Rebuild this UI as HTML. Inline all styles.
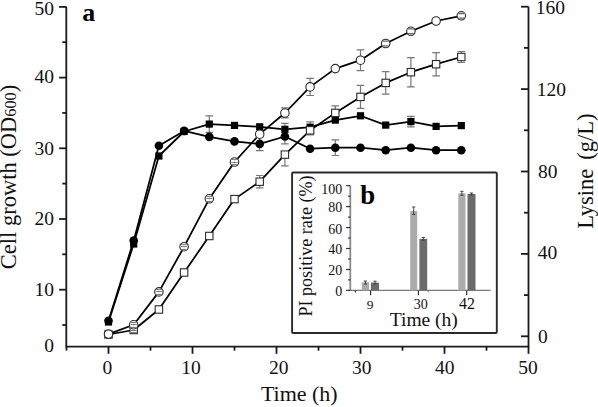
<!DOCTYPE html>
<html><head><meta charset="utf-8"><style>
html,body{margin:0;padding:0;background:#fff;}
body{width:598px;height:407px;overflow:hidden;font-family:"Liberation Serif",serif;}
svg{display:block;}
</style></head><body>
<svg width="598" height="407" viewBox="0 0 598 407">
<rect width="598" height="407" fill="#fff"/>
<g stroke="#1a1a1a" stroke-width="1.8" fill="none">
<path d="M66.3 6.7 V346.6 H528.5 V6.7"/>
<path d="M59.099999999999994 289.7 H66.3"/>
<path d="M59.099999999999994 219.0 H66.3"/>
<path d="M59.099999999999994 148.3 H66.3"/>
<path d="M59.099999999999994 77.6 H66.3"/>
<path d="M59.099999999999994 6.9 H66.3"/>
<path d="M62.3 325.0 H66.3"/>
<path d="M62.3 254.3 H66.3"/>
<path d="M62.3 183.6 H66.3"/>
<path d="M62.3 112.9 H66.3"/>
<path d="M62.3 42.2 H66.3"/>
<path d="M521.0 336.3 H528.5"/>
<path d="M521.0 253.9 H528.5"/>
<path d="M521.0 171.5 H528.5"/>
<path d="M521.0 89.1 H528.5"/>
<path d="M521.0 6.7 H528.5"/>
<path d="M524.0 295.1 H528.5"/>
<path d="M524.0 212.7 H528.5"/>
<path d="M524.0 130.3 H528.5"/>
<path d="M524.0 47.9 H528.5"/>
<path d="M108.5 346.6 V353.8"/>
<path d="M192.5 346.6 V353.8"/>
<path d="M276.5 346.6 V353.8"/>
<path d="M360.5 346.6 V353.8"/>
<path d="M444.5 346.6 V353.8"/>
<path d="M528.5 346.6 V353.8"/>
<path d="M66.5 346.6 V350.6"/>
<path d="M150.5 346.6 V350.6"/>
<path d="M234.5 346.6 V350.6"/>
<path d="M318.5 346.6 V350.6"/>
<path d="M402.5 346.6 V350.6"/>
<path d="M486.5 346.6 V350.6"/>
</g>
<g font-family="Liberation Serif, serif" font-size="19.5" fill="#111">
<text x="54.00" y="14.75" text-anchor="end">50</text>
<text x="54.00" y="83.10" text-anchor="end">40</text>
<text x="54.00" y="154.65" text-anchor="end">30</text>
<text x="54.00" y="224.65" text-anchor="end">20</text>
<text x="54.00" y="295.75" text-anchor="end">10</text>
<text x="54.00" y="352.45" text-anchor="end">0</text>
<text x="535.70" y="14.00">160</text>
<text x="536.70" y="95.60">120</text>
<text x="538.00" y="177.60">80</text>
<text x="537.70" y="259.40">40</text>
<text x="538.10" y="343.20">0</text>
<text x="107.30" y="374.00" text-anchor="middle">0</text>
<text x="191.00" y="374.00" text-anchor="middle">10</text>
<text x="278.65" y="374.00" text-anchor="middle">20</text>
<text x="361.75" y="374.00" text-anchor="middle">30</text>
<text x="444.85" y="374.00" text-anchor="middle">40</text>
<text x="528.05" y="374.00" text-anchor="middle">50</text>
</g>
<text font-family="Liberation Serif, serif" font-size="22" fill="#111" x="299.3" y="401" text-anchor="middle">Time (h)</text>
<text font-family="Liberation Serif, serif" font-size="22.5" fill="#111" transform="translate(16.3 269.2) rotate(-90)">Cell growth (OD<tspan font-size="16.3">600</tspan>)</text>
<text font-family="Liberation Serif, serif" font-size="22.5" fill="#111" transform="translate(592.6 228.8) rotate(-90)">Lysine <tspan dx="3.4">(g/L)</tspan></text>
<text font-family="Liberation Serif, serif" font-size="26" font-weight="bold" fill="#000" x="82.2" y="20.9">a</text>
<g fill="none" stroke="#000" stroke-width="1.75" stroke-linejoin="round">
<polyline points="108.5,334.5 133.7,330.0 158.9,309.5 184.1,272.5 209.3,236.0 234.5,199.1 259.7,181.7 284.9,154.6 310.1,130.3 335.3,112.9 360.5,96.9 385.7,82.9 410.9,72.2 436.1,64.2 461.3,57.0"/>
<polyline points="108.5,334.1 133.7,324.8 158.9,291.9 184.1,246.7 209.3,198.8 234.5,162.0 259.7,134.2 284.9,113.0 310.1,86.9 335.3,68.6 360.5,60.2 385.7,43.5 410.9,31.3 436.1,21.0 461.3,15.8"/>
<polyline points="108.5,322.0 133.7,244.0 158.9,156.0 184.1,131.5 209.3,124.1 234.5,125.4 259.7,126.8 284.9,129.3 310.1,127.2 335.3,120.1 360.5,115.8 385.7,125.1 410.9,121.6 436.1,126.4 461.3,125.6"/>
<polyline points="108.5,320.7 133.7,240.6 158.9,145.7 184.1,130.9 209.3,136.9 234.5,141.4 259.7,143.9 284.9,136.5 310.1,148.7 335.3,147.7 360.5,147.7 385.7,150.2 410.9,147.7 436.1,150.2 461.3,150.2"/>
</g>
<g stroke="#777" stroke-width="1.2" fill="none">
<path d="M259.7 137.2 V143.9 M255.9 137.2 h7.6 M259.7 150.6 V143.9 M255.9 150.6 h7.6"/>
<path d="M284.9 129.2 V136.5 M281.1 129.2 h7.6 M284.9 143.8 V136.5 M281.1 143.8 h7.6"/>
<path d="M335.3 139.9 V147.7 M331.5 139.9 h7.6 M335.3 155.5 V147.7 M331.5 155.5 h7.6"/>
<path d="M209.3 115.8 V124.1 M205.5 115.8 h7.6 M209.3 132.4 V124.1 M205.5 132.4 h7.6"/>
<path d="M284.9 123.3 V129.3 M281.1 123.3 h7.6 M284.9 135.3 V129.3 M281.1 135.3 h7.6"/>
<path d="M410.9 116.3 V121.6 M407.1 116.3 h7.6 M410.9 126.9 V121.6 M407.1 126.9 h7.6"/>
<path d="M284.9 107.8 V113.0 M281.1 107.8 h7.6 M284.9 117.8 V113.0 M281.1 117.8 h7.6"/>
<path d="M310.1 78.3 V86.9 M306.3 78.3 h7.6 M310.1 95.5 V86.9 M306.3 95.5 h7.6"/>
<path d="M360.5 49.8 V60.2 M356.7 49.8 h7.6 M360.5 70.6 V60.2 M356.7 70.6 h7.6"/>
<path d="M259.7 175.5 V181.7 M255.9 175.5 h7.6 M259.7 187.9 V181.7 M255.9 187.9 h7.6"/>
<path d="M284.9 165.8 V154.6 M281.1 165.8 h7.6"/>
<path d="M310.1 121.9 V130.3 M306.3 121.9 h7.6 M310.1 134.9 V130.3 M306.3 134.9 h7.6"/>
<path d="M335.3 105.9 V112.9 M331.5 105.9 h7.6 M335.3 119.9 V112.9 M331.5 119.9 h7.6"/>
<path d="M360.5 85.4 V96.9 M356.7 85.4 h7.6 M360.5 108.4 V96.9 M356.7 108.4 h7.6"/>
<path d="M385.7 71.6 V82.9 M381.9 71.6 h7.6 M385.7 94.2 V82.9 M381.9 94.2 h7.6"/>
<path d="M410.9 57.6 V72.2 M407.1 57.6 h7.6 M410.9 86.8 V72.2 M407.1 86.8 h7.6"/>
<path d="M436.1 52.6 V64.2 M432.3 52.6 h7.6 M436.1 75.8 V64.2 M432.3 75.8 h7.6"/>
<path d="M461.3 51.5 V57.0 M457.5 51.5 h7.6 M461.3 62.5 V57.0 M457.5 62.5 h7.6"/>
</g>
<g fill="#000">
<rect x="104.9" y="318.4" width="7.2" height="7.2"/>
<rect x="130.1" y="240.4" width="7.2" height="7.2"/>
<rect x="155.3" y="152.4" width="7.2" height="7.2"/>
<rect x="180.5" y="127.9" width="7.2" height="7.2"/>
<rect x="205.7" y="120.5" width="7.2" height="7.2"/>
<rect x="230.9" y="121.8" width="7.2" height="7.2"/>
<rect x="256.1" y="123.2" width="7.2" height="7.2"/>
<rect x="281.3" y="125.7" width="7.2" height="7.2"/>
<rect x="306.5" y="123.6" width="7.2" height="7.2"/>
<rect x="331.7" y="116.5" width="7.2" height="7.2"/>
<rect x="356.9" y="112.2" width="7.2" height="7.2"/>
<rect x="382.1" y="121.5" width="7.2" height="7.2"/>
<rect x="407.3" y="118.0" width="7.2" height="7.2"/>
<rect x="432.5" y="122.8" width="7.2" height="7.2"/>
<rect x="457.7" y="122.0" width="7.2" height="7.2"/>
<circle cx="108.5" cy="320.7" r="4.3"/>
<circle cx="133.7" cy="240.6" r="4.3"/>
<circle cx="158.9" cy="145.7" r="4.3"/>
<circle cx="184.1" cy="130.9" r="4.3"/>
<circle cx="209.3" cy="136.9" r="4.3"/>
<circle cx="234.5" cy="141.4" r="4.3"/>
<circle cx="259.7" cy="143.9" r="4.3"/>
<circle cx="284.9" cy="136.5" r="4.3"/>
<circle cx="310.1" cy="148.7" r="4.3"/>
<circle cx="335.3" cy="147.7" r="4.3"/>
<circle cx="360.5" cy="147.7" r="4.3"/>
<circle cx="385.7" cy="150.2" r="4.3"/>
<circle cx="410.9" cy="147.7" r="4.3"/>
<circle cx="436.1" cy="150.2" r="4.3"/>
<circle cx="461.3" cy="150.2" r="4.3"/>
</g>
<g fill="#fff" stroke="#2a2a2a" stroke-width="1.1">
<rect x="104.8" y="330.8" width="7.4" height="7.4"/>
<rect x="130.0" y="326.3" width="7.4" height="7.4"/>
<rect x="155.2" y="305.8" width="7.4" height="7.4"/>
<rect x="180.4" y="268.8" width="7.4" height="7.4"/>
<rect x="205.6" y="232.3" width="7.4" height="7.4"/>
<rect x="230.8" y="195.4" width="7.4" height="7.4"/>
<rect x="256.0" y="178.0" width="7.4" height="7.4"/>
<rect x="281.2" y="150.9" width="7.4" height="7.4"/>
<rect x="306.4" y="126.6" width="7.4" height="7.4"/>
<rect x="331.6" y="109.2" width="7.4" height="7.4"/>
<rect x="356.8" y="93.2" width="7.4" height="7.4"/>
<rect x="382.0" y="79.2" width="7.4" height="7.4"/>
<rect x="407.2" y="68.5" width="7.4" height="7.4"/>
<rect x="432.4" y="60.5" width="7.4" height="7.4"/>
<rect x="457.6" y="53.3" width="7.4" height="7.4"/>
<circle cx="108.5" cy="334.1" r="4.25"/>
<circle cx="133.7" cy="324.8" r="4.25"/>
<circle cx="158.9" cy="291.9" r="4.25"/>
<circle cx="184.1" cy="246.7" r="4.25"/>
<circle cx="209.3" cy="198.8" r="4.25"/>
<circle cx="234.5" cy="162.0" r="4.25"/>
<circle cx="259.7" cy="134.2" r="4.25"/>
<circle cx="284.9" cy="113.0" r="4.25"/>
<circle cx="310.1" cy="86.9" r="4.25"/>
<circle cx="335.3" cy="68.6" r="4.25"/>
<circle cx="360.5" cy="60.2" r="4.25"/>
<circle cx="385.7" cy="43.5" r="4.25"/>
<circle cx="410.9" cy="31.3" r="4.25"/>
<circle cx="436.1" cy="21.0" r="4.25"/>
<circle cx="461.3" cy="15.8" r="4.25"/>
</g>
<g stroke="#8a8a8a" stroke-width="0.75" fill="none">
<path d="M133.7 322.3 V327.3" stroke-width="0.5" stroke="#aaa"/><path d="M130.6 322.5 h6.2 M130.6 327.5 h6.2 M130.6 324.5 h6.2" stroke="#7a7a7a" stroke-width="0.95"/>
<path d="M158.9 289.4 V294.4" stroke-width="0.5" stroke="#aaa"/><path d="M155.8 289.5 h6.2 M155.8 294.5 h6.2 M155.8 291.5 h6.2" stroke="#7a7a7a" stroke-width="0.95"/>
<path d="M184.1 244.2 V249.2" stroke-width="0.5" stroke="#aaa"/><path d="M181.0 244.5 h6.2 M181.0 249.5 h6.2 M181.0 246.5 h6.2" stroke="#7a7a7a" stroke-width="0.95"/>
<path d="M209.3 196.4 V201.2" stroke-width="0.5" stroke="#aaa"/><path d="M206.2 196.5 h6.2 M206.2 201.5 h6.2 M206.2 198.5 h6.2" stroke="#7a7a7a" stroke-width="0.95"/>
<path d="M234.5 159.6 V164.4" stroke-width="0.5" stroke="#aaa"/><path d="M231.4 159.5 h6.2 M231.4 164.5 h6.2 M231.4 162.5 h6.2" stroke="#7a7a7a" stroke-width="0.95"/>
<path d="M382.7 41.1 h6.0 M382.7 45.9 h6.0" stroke-width="1.3" stroke="#666"/>
<path d="M407.9 28.9 h6.0 M407.9 33.7 h6.0" stroke-width="1.3" stroke="#666"/>
<path d="M458.3 13.5 h6.0 M458.3 18.1 h6.0" stroke-width="1.3" stroke="#666"/>
<path d="M133.7 327.5 V332.5" stroke-width="0.5" stroke="#aaa"/><path d="M130.6 327.5 h6.2 M130.6 332.5 h6.2 M130.6 330.5 h6.2" stroke="#7a7a7a" stroke-width="0.95"/>
<path d="M281.8 150.4 h6.2"/>
</g>
<rect x="292.1" y="172.5" width="204.7" height="160.5" fill="#fff" stroke="#2a2a2a" stroke-width="1.9" rx="1"/>
<path d="M350.3 185.7 V290.4" stroke="#8a8a8a" stroke-width="1.8" fill="none"/>
<path d="M350.3 290.4 H490.5" stroke="#7a7a7a" stroke-width="1.2" fill="none"/>
<g stroke="#333" stroke-width="1.2" fill="none">
<path d="M346.1 290.4 H350.3"/>
<path d="M346.1 269.5 H350.3"/>
<path d="M346.1 248.5 H350.3"/>
<path d="M346.1 227.6 H350.3"/>
<path d="M346.1 206.6 H350.3"/>
<path d="M346.1 185.7 H350.3"/>
<path d="M348.1 279.9 H350.3"/>
<path d="M348.1 259.0 H350.3"/>
<path d="M348.1 238.0 H350.3"/>
<path d="M348.1 217.1 H350.3"/>
<path d="M348.1 196.2 H350.3"/>
<path d="M370.6 290.4 V295.2"/>
<path d="M418.4 290.4 V295.2"/>
<path d="M466.7 290.4 V295.2"/>
<path d="M355.4 290.4 V292.59999999999997"/>
<path d="M428.2 290.4 V292.2" stroke="#888"/>
</g>
<rect x="361.8" y="282.3" width="7.3" height="8.1" fill="#ababab"/>
<rect x="370.9" y="282.6" width="8.1" height="7.8" fill="#6b6b6b"/>
<rect x="410.2" y="211.0" width="7.0" height="79.4" fill="#ababab"/>
<rect x="419.4" y="238.9" width="7.8" height="51.5" fill="#6b6b6b"/>
<rect x="458.3" y="193.3" width="7.2" height="97.1" fill="#ababab"/>
<rect x="467.5" y="194.0" width="8.0" height="96.4" fill="#6b6b6b"/>
<g stroke="#444" stroke-width="1" fill="none">
<path d="M365.4 281 V284 M363.79999999999995 281 h3.2 M363.79999999999995 284 h3.2"/>
<path d="M375 281.2 V284 M373.4 281.2 h3.2 M373.4 284 h3.2"/>
<path d="M413.7 207 V214.5 M412.09999999999997 207 h3.2 M412.09999999999997 214.5 h3.2"/>
<path d="M423.3 237.5 V240.3 M421.7 237.5 h3.2 M421.7 240.3 h3.2"/>
<path d="M461.9 191.3 V195.3 M460.29999999999995 191.3 h3.2 M460.29999999999995 195.3 h3.2"/>
<path d="M471.5 193 V195 M469.9 193 h3.2 M469.9 195 h3.2"/>
</g>
<g font-family="Liberation Serif, serif" font-size="14" fill="#111">
<text x="342.20" y="193.60" text-anchor="end">100</text>
<text x="342.20" y="211.90" text-anchor="end">80</text>
<text x="342.20" y="233.50" text-anchor="end">60</text>
<text x="342.20" y="253.70" text-anchor="end">40</text>
<text x="342.20" y="275.20" text-anchor="end">20</text>
<text x="342.20" y="295.60" text-anchor="end">0</text>
<text x="370" y="309.2" text-anchor="middle" font-size="13.5">9</text>
<text x="420.8" y="309.1" text-anchor="middle">30</text>
<text x="466.9" y="309.0" text-anchor="middle" font-size="16">42</text>
</g>
<text font-family="Liberation Serif, serif" font-size="19.5" fill="#111" x="423.8" y="326.4" text-anchor="middle">Time (h)</text>
<text font-family="Liberation Serif, serif" font-size="18.1" fill="#111" transform="translate(311.6 316.6) rotate(-90)">PI positive rate (%)</text>
<text font-family="Liberation Serif, serif" font-size="26.8" font-weight="bold" fill="#000" x="360.3" y="203.7">b</text>
</svg>
</body></html>
